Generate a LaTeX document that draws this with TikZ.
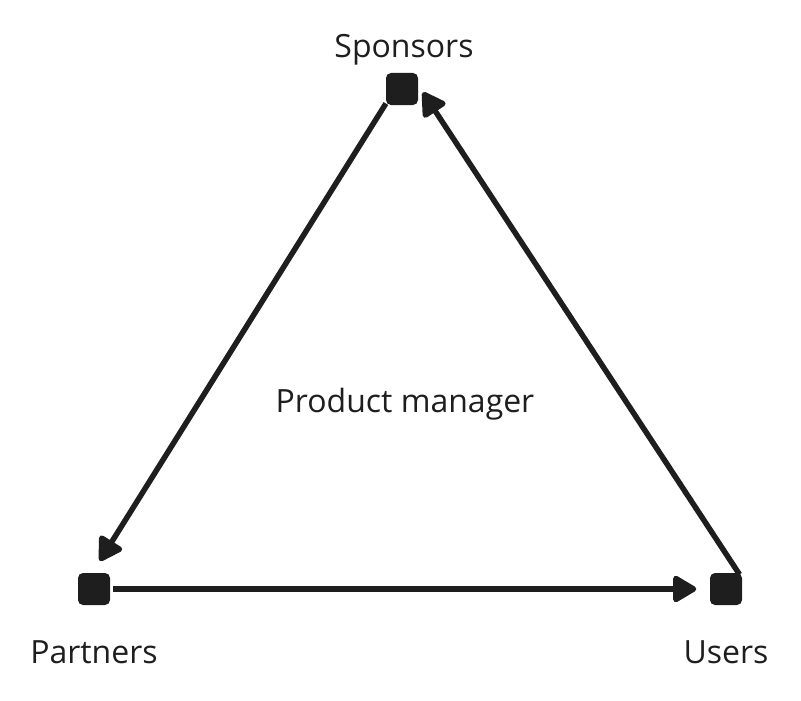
\documentclass[tikz,border=0pt]{standalone}
\usepackage{fontspec}
\setmainfont{Open Sans}
\usetikzlibrary{arrows.meta}
\definecolor{ink}{HTML}{1E1E1E}

\begin{document}
\begin{tikzpicture}[x=1pt, y=-1pt, line width=5.5pt, ink,
        box/.style={fill=ink, draw=none, rounded corners=5pt, minimum size=32pt, inner sep=0pt},
        lbl/.style={font=\fontsize{32}{38}\selectfont, text=ink},
        link/.style={draw=ink, -{Triangle[length=26pt, width=29pt, round]}}]
        % Frame
        \useasboundingbox (0,0) rectangle (801,701);

        % The three corners
        \node[box] (spon) at (402,89) {};
        \node[box] (part) at (94,589) {};
        \node[box] (user) at (726,589) {};

        % Labels
        \node[lbl] (sponlbl) at (404,50) {Sponsors};
        \node[lbl] (partlbl) at (94,652) {Partners};
        \node[lbl] (userlbl) at (726,652) {Users};
        \node[lbl] (pm) at (405,404) {Product manager};

        % Arrows
        \draw[link, shorten <=-5pt, shorten >=11pt] (spon.south west) -- (part.north);
        \draw[link, shorten >=11pt] (part.east) -- (user.west);
        \draw[link, shorten <=-5pt, shorten >=4pt] ([xshift=-8pt]user.north east) -- (spon.east);
\end{tikzpicture}
\end{document}
